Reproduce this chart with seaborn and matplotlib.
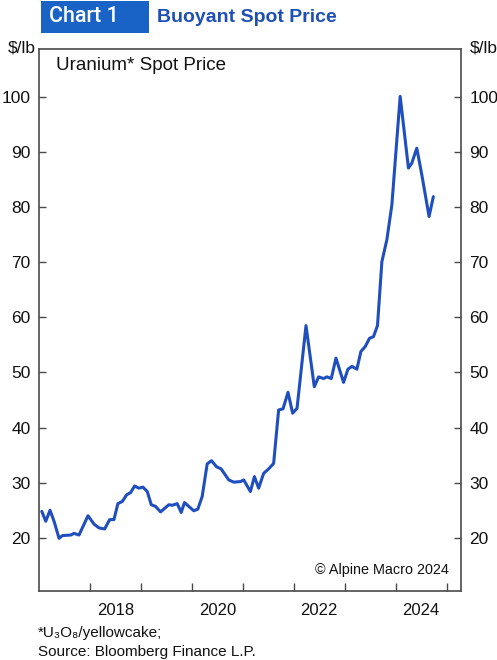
import matplotlib
matplotlib.use("Agg")
import matplotlib.pyplot as plt
from matplotlib.patches import Rectangle
import seaborn as sns
import pandas as pd

# ---- data (decimal year, $/lb) ----
dates = [2017.054, 2017.132, 2017.216, 2017.295, 2017.393, 2017.459, 2017.622, 2017.687,
         2017.785, 2017.961, 2018.078, 2018.176, 2018.288, 2018.386, 2018.470, 2018.548,
         2018.635, 2018.719, 2018.797, 2018.876, 2018.960, 2019.038, 2019.124, 2019.203,
         2019.287, 2019.385, 2019.548, 2019.614, 2019.712, 2019.790, 2019.855, 2019.939,
         2020.037, 2020.116, 2020.202, 2020.300, 2020.384, 2020.482, 2020.574, 2020.723,
         2020.821, 2020.952, 2021.017, 2021.148, 2021.227, 2021.310, 2021.408, 2021.506,
         2021.604, 2021.702, 2021.788, 2021.886, 2021.977, 2022.063, 2022.239, 2022.402,
         2022.486, 2022.584, 2022.650, 2022.735, 2022.827, 2022.976, 2023.062, 2023.140,
         2023.238, 2023.316, 2023.401, 2023.485, 2023.563, 2023.642, 2023.728, 2023.826,
         2023.924, 2024.087, 2024.249, 2024.316, 2024.413, 2024.511, 2024.654, 2024.738]
price = [24.8, 23.0, 25.0, 23.0, 19.9, 20.4, 20.5, 20.8,
         20.5, 24.0, 22.5, 21.8, 21.6, 23.3, 23.3, 26.2,
         26.6, 27.8, 28.2, 29.4, 29.0, 29.2, 28.4, 26.0,
         25.7, 24.7, 26.0, 25.9, 26.2, 24.6, 26.4, 25.7,
         24.9, 25.2, 27.5, 33.4, 34.0, 32.9, 32.5, 30.5,
         30.1, 30.2, 30.5, 28.4, 31.1, 29.0, 31.7, 32.5,
         33.5, 43.2, 43.4, 46.4, 42.6, 43.5, 58.5, 47.4,
         49.2, 48.9, 49.2, 48.9, 52.6, 48.2, 50.6, 51.1,
         50.6, 53.8, 54.7, 56.2, 56.5, 58.5, 70.1, 74.1,
         80.4, 100.1, 87.1, 88.0, 90.7, 85.9, 78.3, 81.9]
y_ticks = [20, 30, 40, 50, 60, 70, 80, 90, 100]
year_ticks = [2018, 2019, 2020, 2021, 2022, 2023, 2024, 2025]
year_labels = ["2018", "2020", "2022", "2024"]

df = pd.DataFrame({"date": dates, "price": price})

sns.set_theme(style="white")
plt.rcParams["font.family"] = ["Liberation Sans", "DejaVu Sans"]

fig = plt.figure(figsize=(4.97, 6.60), dpi=100)
ax = fig.add_axes([0.0785, 0.105, 0.849, 0.8208])

line_color = "#1f4fbf"
sns.lineplot(data=df, x="date", y="price", ax=ax, color=line_color, linewidth=2.2)

ax.set_xlim(2017.0, 2025.28)
ax.set_ylim(10.4, 108.7)
ax.set_xlabel("")
ax.set_ylabel("")

for s in ax.spines.values():
    s.set_color("#4a4a4a")
    s.set_linewidth(1.2)
    s.set_visible(True)

ax.set_yticks(y_ticks)
ax.set_yticklabels([str(v) for v in y_ticks])
ax.tick_params(axis="y", which="major", direction="in", length=5, width=1,
               color="#4a4a4a", left=True, right=True, labelleft=True,
               labelright=True, labelsize=12.5, pad=6, labelcolor="#111111")

ax.set_xticks(year_ticks)
ax.set_xticklabels([""] * len(year_ticks))
ax.set_xticks([2018.5, 2020.5, 2022.5, 2024.5], minor=True)
ax.set_xticklabels(year_labels, minor=True)
ax.tick_params(axis="x", which="major", direction="in", length=6, width=1,
               color="#4a4a4a", bottom=True, top=False)
ax.tick_params(axis="x", which="minor", length=0, labelsize=12, pad=9,
               labelcolor="#111111")
ax.grid(False)

ax.text(0.040, 0.9686, "Uranium* Spot Price", transform=ax.transAxes,
        fontsize=13.5, ha="left", va="center", color="#111111")
ax.text(0.972, 0.025, "\u00a9 Alpine Macro 2024", transform=ax.transAxes,
        fontsize=10.4, ha="right", va="bottom", color="#111111")

# unit labels
fig.text(36 / 497, 1 - 47.5 / 660, "$/lb", fontsize=12.5, ha="right", va="center",
         color="#111111")
fig.text(470 / 497, 1 - 47.5 / 660, "$/lb", fontsize=12.5, ha="left", va="center",
         color="#111111")

# header
fig.patches.append(Rectangle((40.7 / 497, 1 - 33 / 660), 108.3 / 497, 32 / 660,
                             transform=fig.transFigure, facecolor="#1a63c6",
                             edgecolor="none"))
fig.text(49 / 497, 1 - 17 / 660, "Chart 1", fontsize=15.5, family="Roboto",
         fontweight="medium", color="white", ha="left", va="center")
fig.text(157 / 497, 1 - 18 / 660, "Buoyant Spot Price", fontsize=14,
         fontweight="bold", color="#1d4fb5", ha="left", va="center")

# footnotes
fig.text(38 / 497, 1 - 633 / 660, "*U\u2083O\u2088/yellowcake;", fontsize=11,
         ha="left", va="center", color="#111111")
fig.text(38 / 497, 1 - 652 / 660, "Source: Bloomberg Finance L.P.", fontsize=11,
         ha="left", va="center", color="#111111")

fig.savefig("out.png", dpi=100, facecolor="white")
